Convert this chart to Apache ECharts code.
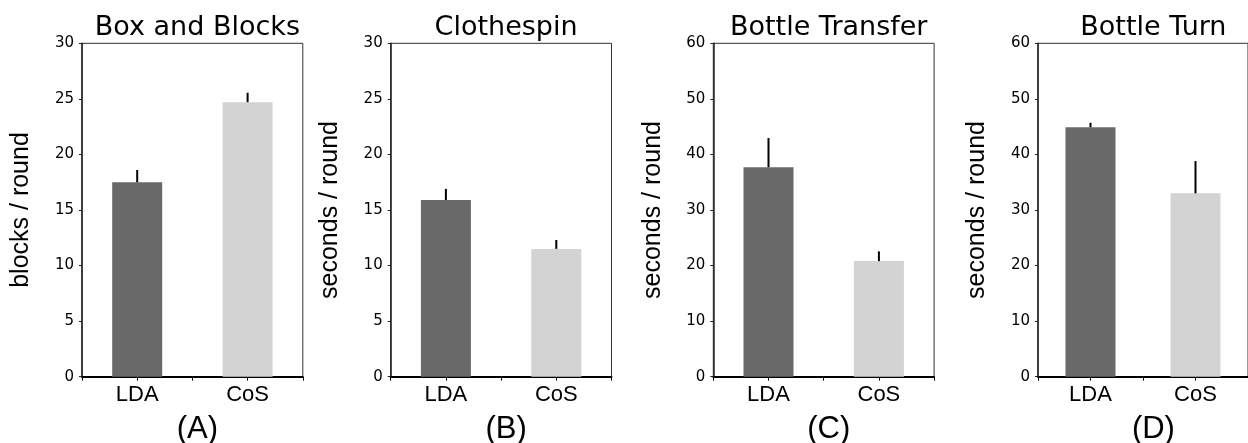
<!DOCTYPE html>
<html>
<head>
<meta charset="utf-8">
<script src="https://cdn.jsdelivr.net/npm/echarts@6/dist/echarts.min.js"></script>
<style>
html,body{margin:0;padding:0;background:#fff;}
#chart{width:1248px;height:443px;}
</style>
</head>
<body>
<div id="chart"></div>
<script>
const categories = ['LDA', 'CoS'];
const titles = ['Box and Blocks', 'Clothespin', 'Bottle Transfer', 'Bottle Turn'];
const panelLabels = ['(A)', '(B)', '(C)', '(D)'];
const yNames = ['blocks / round', 'seconds / round', 'seconds / round', 'seconds / round'];
const yMax = [30, 30, 60, 60];
const yStep = [5, 5, 10, 10];
const boxBlocksMean = [17.5, 24.7];
const boxBlocksErr = [1.1, 0.85];
const clothespinMean = [15.9, 11.5];
const clothespinErr = [1.0, 0.8];
const transferMean = [37.7, 20.8];
const transferErr = [5.25, 1.75];
const turnMean = [44.9, 33.0];
const turnErr = [0.8, 5.8];
const barColors = ['#696969', '#d3d3d3'];

const means = [boxBlocksMean, clothespinMean, transferMean, turnMean];
const errs = [boxBlocksErr, clothespinErr, transferErr, turnErr];

const gridLefts = [82, 390.7, 713.3, 1038];
const gridW = 220.8, gridTop = 43.3, gridH = 333.4;

const grid = [], xAxis = [], yAxis = [], series = [], title = [];
for (let p = 0; p < 4; p++) {
  grid.push({left: gridLefts[p], top: gridTop, width: gridW, height: gridH,
    show: true, borderColor: '#333', borderWidth: 1, backgroundColor: 'transparent'});
  const cx = gridLefts[p] + gridW / 2;
  title.push({text: titles[p], left: cx, top: 9, textAlign: 'center',
    textStyle: {fontFamily: 'DejaVu Sans', fontSize: 27, fontWeight: 'normal', color: '#000'}});
  title.push({text: panelLabels[p], left: cx, top: 409, textAlign: 'center',
    textStyle: {fontFamily: 'Liberation Sans', fontSize: 31, fontWeight: 'normal', color: '#000'}});
  // boundary ticks + labels
  xAxis.push({type: 'category', gridIndex: p, data: categories, boundaryGap: true,
    axisLine: {lineStyle: {color: '#000', width: 2}},
    axisTick: {show: true, length: 4, alignWithLabel: false, lineStyle: {color: '#000', width: 1}},
    axisLabel: {fontFamily: 'Liberation Sans', fontSize: 22, color: '#000', margin: 7}});
  // center ticks
  xAxis.push({type: 'category', gridIndex: p, data: categories, boundaryGap: true, position: 'bottom',
    axisLine: {show: false},
    axisTick: {show: true, length: 4, alignWithLabel: true, lineStyle: {color: '#000', width: 1}},
    axisLabel: {show: false}});
  yAxis.push({type: 'value', gridIndex: p, min: 0, max: yMax[p], interval: yStep[p],
    name: yNames[p], nameLocation: 'middle', nameGap: 48, nameRotate: 90,
    nameTextStyle: {fontFamily: 'Liberation Sans', fontSize: 25, color: '#000'},
    splitLine: {show: false},
    axisLine: {show: true, lineStyle: {color: '#222', width: 1.5}},
    axisTick: {show: true, length: 3, lineStyle: {color: '#222', width: 1}},
    axisLabel: {fontFamily: 'DejaVu Sans', fontSize: 15, color: '#000', margin: 8}});
  series.push({type: 'bar', xAxisIndex: 2 * p, yAxisIndex: p, barWidth: 50,
    data: means[p].map((v, i) => ({value: v, itemStyle: {color: barColors[i]}})),
    z: 2});
  series.push({type: 'custom', xAxisIndex: 2 * p, yAxisIndex: p, z: 3,
    data: means[p].map((v, i) => [i, v, v + errs[p][i]]),
    encode: {x: 0, y: [1, 2]},
    renderItem: function (params, api) {
      const a = api.coord([api.value(0), api.value(1)]);
      const b = api.coord([api.value(0), api.value(2)]);
      return {type: 'line', shape: {x1: a[0], y1: a[1], x2: b[0], y2: b[1]},
        style: {stroke: '#000', lineWidth: 2}};
    }});
}

const chart = echarts.init(document.getElementById('chart'), null, {renderer: 'canvas'});
chart.setOption({animation: false, backgroundColor: '#fff', title, grid, xAxis, yAxis, series});
</script>
</body>
</html>
